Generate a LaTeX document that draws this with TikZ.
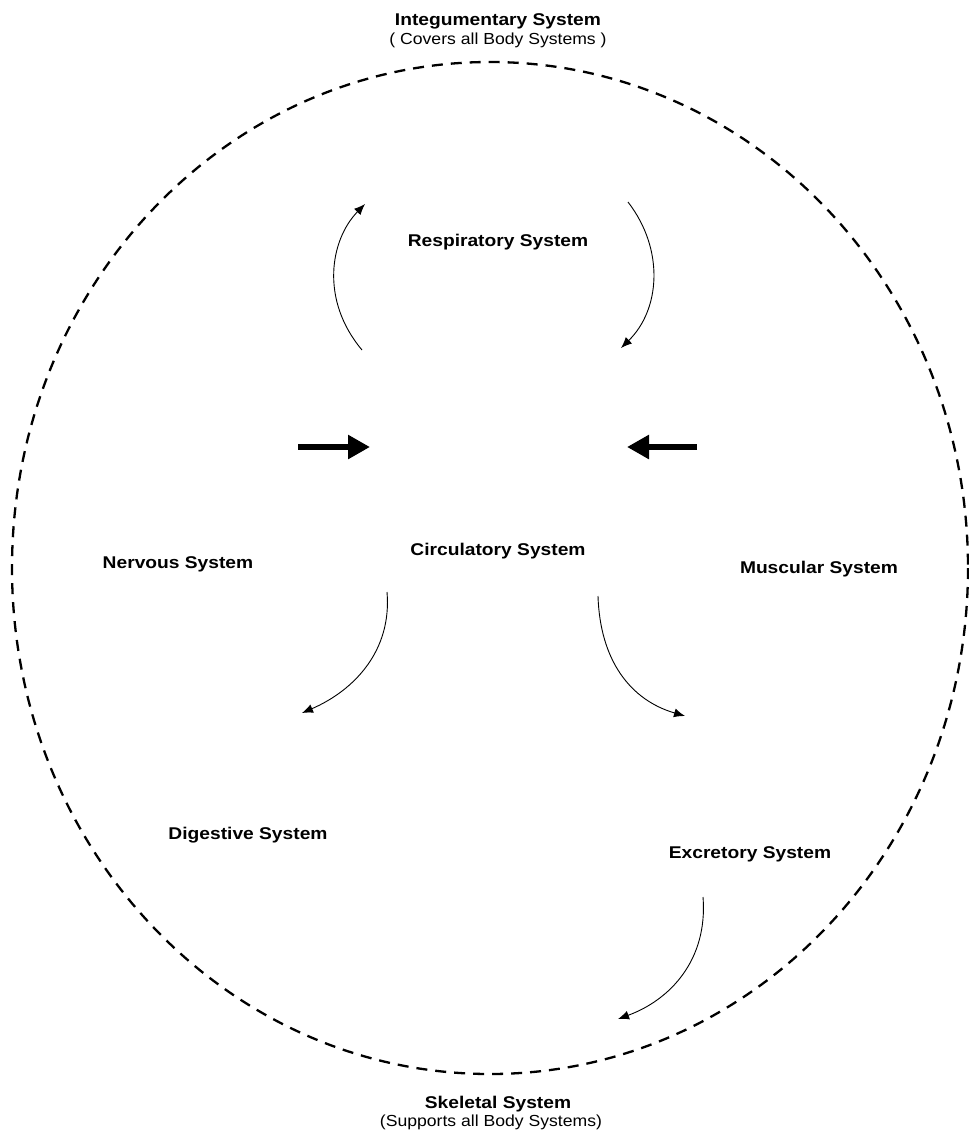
\documentclass[tikz,border=0pt]{standalone}
\usepackage{fontspec}
\setmainfont{Liberation Sans}
\newfontfamily\lblfont[FakeStretch=1.13]{Liberation Sans}
\newfontfamily\subfont[FakeStretch=1.1]{Liberation Sans}
\usetikzlibrary{arrows.meta}
\begin{document}
\begin{tikzpicture}[x=1pt,y=-1pt,
  lbl/.style={font=\lblfont\bfseries\fontsize{17}{19}\selectfont, inner sep=0pt, anchor=base},
  sub/.style={font=\subfont\fontsize{16}{18}\selectfont, inner sep=0pt, anchor=base},
  thin arrow/.style={line width=0.9pt, -{Latex[length=11pt,width=9pt]}},
  thick arrow/.style={line width=5.5pt, -{Triangle[length=22pt,width=23pt]}}]
\useasboundingbox (0,0) rectangle (969,1133);
\draw[line width=2.3pt, dash pattern=on 11pt off 8pt] (490,568) ellipse [x radius=478, y radius=506];
\node[lbl] (integ) at (498,25) {Integumentary System};
\node[sub] (integs) at (498,44) {( Covers all Body Systems )};
\node[lbl] (resp) at (498,246) {Respiratory System};
\node[lbl] (circ) at (498,555) {Circulatory System};
\node[lbl] (nerv) at (178,568) {Nervous System};
\node[lbl] (musc) at (819,573) {Muscular System};
\node[lbl] (dig) at (248,839) {Digestive System};
\node[lbl] (excr) at (750,858) {Excretory System};
\node[lbl] (skel) at (498,1108) {Skeletal System};
\node[sub] (skels) at (491,1126) {(Supports all Body Systems)};
\coordinate (a1s) at (362,350); \coordinate (a1e) at (365,204);
\coordinate (a2s) at (628,202); \coordinate (a2e) at (621,348);
\coordinate (t1s) at (298,447); \coordinate (t1e) at (370,447);
\coordinate (t2s) at (697,447); \coordinate (t2e) at (627,447);
\coordinate (a3s) at (387,592); \coordinate (a3e) at (302,713);
\coordinate (a4s) at (598,596); \coordinate (a4e) at (685,716);
\coordinate (a5s) at (703,897); \coordinate (a5e) at (618,1019);
\draw[thin arrow] (a1s) .. controls (320,300) and (330,240) .. (a1e);
\draw[thin arrow] (a2s) .. controls (665,250) and (660,310) .. (a2e);
\draw[thick arrow] (t1s) -- (t1e);
\draw[thick arrow] (t2s) -- (t2e);
\draw[thin arrow] (a3s) .. controls (392,650) and (355,690) .. (a3e);
\draw[thin arrow] (a4s) .. controls (600,660) and (630,700) .. (a4e);
\draw[thin arrow] (a5s) .. controls (708,960) and (670,1000) .. (a5e);
\end{tikzpicture}
\end{document}
